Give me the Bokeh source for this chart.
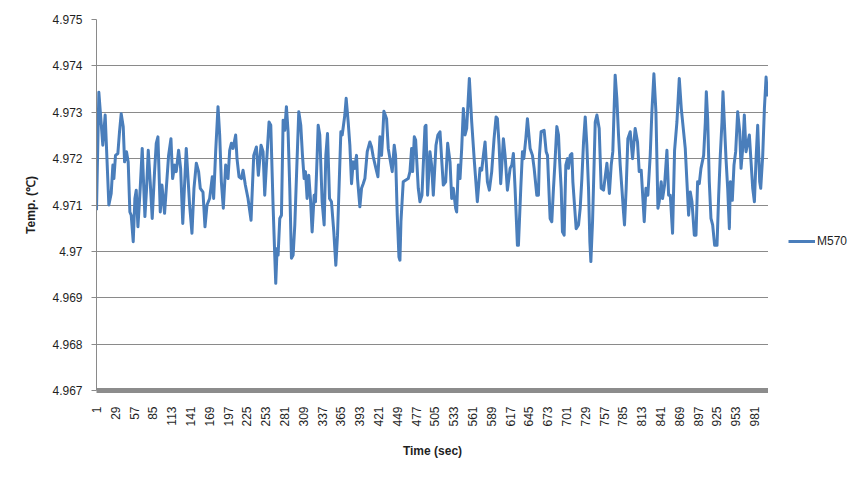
from bokeh.plotting import figure
from bokeh.layouts import row
from bokeh.models import (Range1d, FixedTicker, CustomJSTickFormatter, Legend, LegendItem,
                          ColumnDataSource)
from bokeh.embed import file_html
from bokeh.resources import INLINE

# --- data (time in sec, temperature in deg C) ---
time_sec = [
    1, 4.5, 10.4, 13.9, 19.4, 22.9, 25.4, 26.9, 29.3, 32.8, 35.3, 37.8, 40.8, 42.8, 45.7, 48.2,
    50.7, 52.7, 55.7, 58.2, 60.2, 62.7, 66.1, 69.1, 73.1, 75.6, 78.1, 81.0, 84.0, 87.5, 90.0,
    92.5, 96.0, 98.5, 102.4, 108.4, 111.9, 114.4, 117.4, 119.8, 123.3, 126.3, 129.5,
    134.7, 139.7, 143.2, 146.2, 149.7, 153.1, 155.6, 159.6, 162.6, 165.6, 169.5, 173.5, 175.5,
    178.5, 182.0, 184.5, 187.0, 189.9, 193.4, 196.9, 199.4, 201.9, 204.4, 208.3, 210.3, 213.3,
    216.8, 219.3, 222.7, 226.7, 231.2, 235.2, 239.2, 242.1, 246.1, 249.1, 251.6, 254.1, 258.0,
    260.6, 264.0, 266.5, 268.0, 270.0, 271.5, 274.0, 276.5, 279.0, 281.4, 283.9, 286.4, 288.9,
    291.4, 293.9, 296.4, 299.3, 302.3, 305.3, 307.8, 310.3, 312.3, 314.7, 317.2, 319.7, 322.2,
    325.2, 327.2, 329.7, 331.2, 333.6, 337.1, 340.1, 342.6, 345.1, 348.1, 351.0, 354.5, 357.5,
    360.0, 365.0, 367.0, 370.9, 372.9, 375.9, 378.4,
    380.9, 383.4, 385.4, 388.3, 389.8, 393.3, 395.8, 398.3, 400.8, 404.3, 408.2, 410.7, 413.2,
    417.2, 420.2, 423.2, 425.6, 427.1, 429.1, 433.1, 435.6, 438.1, 441.5, 444.5, 446.5, 449.0,
    451.5, 453.0, 454.5, 457.9, 461.9, 465.4, 467.9, 470.4, 471.9, 474.4, 476.4, 480.3, 482.8,
    485.8, 490.3, 491.8, 494.2, 497.7, 500.2, 502.7, 506.7, 509.5,
    512.7, 515.1, 517.6, 521.1, 524.1, 527.6, 530.1, 532.5, 536.0, 537.5, 540.0, 542.5, 545.0,
    547.5, 550.0, 552.4, 556.4, 559.9, 563.9, 568.3, 572.3, 574.8, 577.3, 579.8, 583.3, 586.2,
    589.7, 593.2, 596.2, 598.2, 600.7, 603.1, 607.1, 609.6, 613.1, 617.1, 619.6, 622.0, 624.5,
    628.0, 629.5, 633.0, 635.5, 637.5,
    640.5, 642.9, 646.9, 650.4, 652.9, 656.9, 659.3, 660.8, 663.3, 667.8, 670.8, 672.8, 674.8,
    676.7, 679.2, 681.7, 683.7, 686.7, 689.2, 690.7, 693.2, 695.1, 697.6, 700.1, 702.6, 704.1,
    706.6, 709.1, 710.6, 713.0, 715.5, 719.0, 721.5, 724.0, 726.5, 729.0, 731.4, 733.9, 735.9,
    737.4, 739.9, 743.9, 746.4, 749.8, 752.8, 756.3, 761.3, 765.0,
    767.7, 770.1, 773.6, 776.1, 778.6, 781.1, 783.6, 786.0, 787.5, 790.0, 792.5, 796.0, 799.5,
    803.4, 806.9, 809.4, 812.4, 816.9, 819.4, 822.3, 825.8, 828.3, 831.3, 834.3, 837.3, 839.2,
    842.2, 844.2, 847.2, 850.7, 853.2, 855.7, 859.1, 862.1, 865.6, 869.1, 872.1, 878.0, 880.5,
    883.0, 885.5, 888.0, 891.5, 894.0,
    896.4, 898.9, 901.4, 905.4, 907.9, 909.4, 911.4, 913.8, 916.3, 918.8, 921.8, 925.3, 927.8,
    930.2, 932.7, 934.2, 936.2, 938.7, 941.2, 943.7, 945.2, 948.1, 950.6, 953.1, 956.1, 959.1,
    961.1, 963.6, 966.0, 968.5, 973.5, 976.0, 978.5, 981.0, 983.5, 985.9, 988.9, 990.4, 993.4,
    995.9, 998.4, 1000.4, 1002.0,
]
temp_m570 = [
    4.97089, 4.97343, 4.97229, 4.97294, 4.97100, 4.97125, 4.97186, 4.97157, 4.97207, 4.97211,
    4.97258, 4.97297, 4.97269, 4.97193, 4.97215, 4.97193, 4.97085, 4.97078, 4.97021, 4.97114,
    4.97132, 4.97053, 4.97136, 4.97222, 4.97075, 4.97136, 4.97218, 4.97150, 4.97071, 4.97172,
    4.97233, 4.97247, 4.97085, 4.97143, 4.97082, 4.97207, 4.97243, 4.97157, 4.97186, 4.97172,
    4.97218, 4.97179, 4.97060,
    4.97222, 4.97100, 4.97039, 4.97136, 4.97190, 4.97172, 4.97136, 4.97128, 4.97053, 4.97100,
    4.97114, 4.97161, 4.97114, 4.97215, 4.97312, 4.97251, 4.97150, 4.97093, 4.97186, 4.97157,
    4.97218, 4.97233, 4.97222, 4.97251, 4.97200, 4.97161, 4.97157, 4.97175, 4.97143, 4.97114,
    4.97067, 4.97207, 4.97225, 4.97164, 4.97229, 4.97215, 4.97121, 4.97186, 4.97279,
    4.97272, 4.97100, 4.96992, 4.96931, 4.97006, 4.96992, 4.97071, 4.97078, 4.97283, 4.97261,
    4.97312, 4.97258, 4.97136, 4.96985, 4.96992, 4.97057, 4.97179, 4.97301, 4.97272, 4.97207,
    4.97157, 4.97172, 4.97114, 4.97164, 4.97114, 4.97042, 4.97121, 4.97107, 4.97207, 4.97272,
    4.97251, 4.97107, 4.97057, 4.97207, 4.97254, 4.97114, 4.97107, 4.97042, 4.96970, 4.97035,
    4.97258, 4.97251, 4.97294, 4.97330, 4.97279, 4.97229,
    4.97146, 4.97193, 4.97179, 4.97207, 4.97157, 4.97096, 4.97136, 4.97146, 4.97157, 4.97215,
    4.97236, 4.97225, 4.97204, 4.97179, 4.97161, 4.97247, 4.97207, 4.97243, 4.97302, 4.97286,
    4.97222, 4.97200, 4.97172, 4.97229, 4.97207, 4.97078, 4.96988, 4.96981, 4.97064, 4.97150,
    4.97154, 4.97157, 4.97172, 4.97222, 4.97172, 4.97247, 4.97240, 4.97136, 4.97107, 4.97121,
    4.97269, 4.97272, 4.97121, 4.97215, 4.97186, 4.97121, 4.97229, 4.97251,
    4.97258, 4.97200, 4.97143, 4.97150, 4.97233, 4.97193, 4.97114, 4.97136, 4.97093, 4.97085,
    4.97186, 4.97157, 4.97222, 4.97308, 4.97251, 4.97265, 4.97373, 4.97279, 4.97193, 4.97107,
    4.97179, 4.97175, 4.97207, 4.97236, 4.97150, 4.97132, 4.97172, 4.97243, 4.97290, 4.97286,
    4.97229, 4.97146, 4.97243, 4.97207, 4.97132, 4.97179, 4.97186, 4.97211, 4.97136, 4.97013,
    4.97013, 4.97136, 4.97215, 4.97200,
    4.97243, 4.97286, 4.97222, 4.97207, 4.97179, 4.97121, 4.97121, 4.97207, 4.97258, 4.97261,
    4.97215, 4.97207, 4.97136, 4.97071, 4.97064, 4.97136, 4.97186, 4.97269, 4.97251, 4.97200,
    4.97136, 4.97042, 4.97035, 4.97186, 4.97200, 4.97179, 4.97207, 4.97211, 4.97150, 4.97100,
    4.97049, 4.97057, 4.97093, 4.97157, 4.97236, 4.97290, 4.97229, 4.97136, 4.97021, 4.96978,
    4.97064, 4.97279, 4.97294, 4.97265, 4.97136, 4.97132, 4.97190, 4.97125,
    4.97186, 4.97215, 4.97380, 4.97330, 4.97251, 4.97186, 4.97136, 4.97085, 4.97057, 4.97136,
    4.97243, 4.97258, 4.97200, 4.97265, 4.97236, 4.97172, 4.97175, 4.97064, 4.97136, 4.97121,
    4.97207, 4.97301, 4.97383, 4.97301, 4.97093, 4.97107, 4.97150, 4.97114, 4.97143, 4.97218,
    4.97121, 4.97121, 4.97039, 4.97218, 4.97279, 4.97373, 4.97308, 4.97222, 4.97150, 4.97078,
    4.97128, 4.97107, 4.97035, 4.97035,
    4.97150, 4.97146, 4.97179, 4.97207, 4.97279, 4.97344, 4.97286, 4.97150, 4.97071, 4.97057,
    4.97013, 4.97013, 4.97121, 4.97207, 4.97279, 4.97344, 4.97279, 4.97200, 4.97136, 4.97049,
    4.97150, 4.97110, 4.97186, 4.97215, 4.97301, 4.97258, 4.97179, 4.97222, 4.97294, 4.97215,
    4.97251, 4.97193, 4.97136, 4.97107, 4.97200, 4.97272, 4.97150, 4.97136, 4.97207, 4.97308,
    4.97376, 4.97337, 4.97344,
]
series_name = "M570"
x_tick_labels = [1, 29, 57, 85, 113, 141, 169, 197, 225, 253, 281, 309, 337, 365, 393, 421,
                 449, 477, 505, 533, 561, 589, 617, 645, 673, 701, 729, 757, 785, 813, 841,
                 869, 897, 925, 953, 981]
y_ticks = [4.967, 4.968, 4.969, 4.970, 4.971, 4.972, 4.973, 4.974, 4.975]

FONT = "Liberation Sans"
TXT = "#1f1f1f"
GRID = "#8a8a8a"
LINE = "#4a7ebb"

p = figure(width=768, height=477, output_backend="svg", toolbar_location=None,
           x_range=Range1d(1, 1002), y_range=Range1d(4.967, 4.975),
           min_border_left=96, min_border_right=0, min_border_top=19, min_border_bottom=87)
p.outline_line_color = None
p.background_fill_color = "white"
p.border_fill_color = "white"

src = ColumnDataSource(dict(t=time_sec, v=temp_m570))
r = p.line("t", "v", source=src, line_color=LINE, line_width=3, line_join="round")

# x axis
xa = p.xaxis[0]
xa.ticker = FixedTicker(ticks=x_tick_labels)
xa.major_label_orientation = 3.14159265 / 2
xa.axis_line_color = "#8c8c8c"
xa.axis_line_width = 5
xa.major_tick_line_color = None
xa.minor_tick_line_color = None
xa.major_tick_out = 0
xa.major_label_standoff = 16
xa.major_label_text_font = FONT
xa.major_label_text_font_size = "12px"
xa.major_label_text_color = TXT
xa.axis_label = "Time (sec)"
xa.axis_label_text_font = FONT
xa.axis_label_text_font_size = "12px"
xa.axis_label_text_font_style = "bold"
xa.axis_label_text_color = TXT
xa.axis_label_standoff = 14

# y axis
ya = p.yaxis[0]
ya.ticker = FixedTicker(ticks=y_ticks)
ya.formatter = CustomJSTickFormatter(code="return String(parseFloat(tick.toFixed(3)));")
ya.axis_line_color = GRID
ya.major_tick_line_color = GRID
ya.major_tick_out = 5
ya.major_tick_in = 0
ya.minor_tick_line_color = None
ya.major_label_standoff = 9
ya.major_label_text_font = FONT
ya.major_label_text_font_size = "12px"
ya.major_label_text_color = TXT
ya.axis_label = "Temp. (℃)"
ya.axis_label_text_font = FONT
ya.axis_label_text_font_size = "12px"
ya.axis_label_text_font_style = "bold"
ya.axis_label_text_color = TXT
ya.axis_label_standoff = 11

p.xgrid.grid_line_color = None
p.ygrid.grid_line_color = GRID
p.ygrid.ticker = FixedTicker(ticks=y_ticks)

# legend strip to the right of the chart (its sample renderer shares the series
# data, which lies outside this strip's ranges, so only the legend entry shows)
q = figure(width=98, height=477, output_backend="svg", toolbar_location=None,
           x_range=Range1d(0, 1), y_range=Range1d(0, 1), x_axis_location=None,
           y_axis_location=None, min_border=0)
q.outline_line_color = None
q.grid.grid_line_color = None
q.background_fill_color = "white"
q.border_fill_color = "white"
sample = q.line("t", "v", source=src, line_color=LINE, line_width=3)
legend = Legend(items=[LegendItem(label=series_name, renderers=[sample])],
                location=(20, 142), border_line_alpha=0, background_fill_alpha=0,
                padding=0, margin=0, spacing=0, glyph_width=27, glyph_height=12,
                label_height=12, label_standoff=2, label_text_font=FONT,
                label_text_font_size="12px", label_text_color=TXT)
q.add_layout(legend, "center")

layout = row(p, q, spacing=0)
open("out.html", "w").write(file_html(layout, INLINE))
